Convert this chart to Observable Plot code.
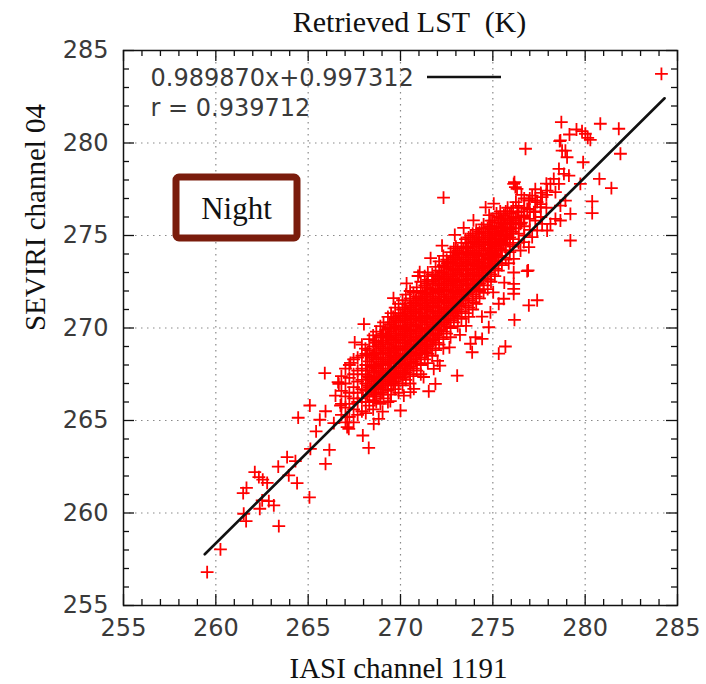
<!DOCTYPE html>
<html><head><meta charset="utf-8">
<script src="https://cdn.jsdelivr.net/npm/d3@7"></script>
<script src="https://cdn.jsdelivr.net/npm/@observablehq/plot@0.6"></script>
<style>body{margin:0;background:#fff}#chart svg{display:block}</style>
</head><body><div id="chart"></div>
<script>
// ---------- data ----------
const titleText = "Retrieved LST  (K)";
const xLabel = "IASI channel 1191";
const yLabel = "SEVIRI channel 04";
const boxLabel = "Night";
const xTicks = [255, 260, 265, 270, 275, 280, 285];
const yTicks = [255, 260, 265, 270, 275, 280, 285];
const gridTicks = [260, 265, 270, 275, 280];
const minorTicks = [256,257,258,259,261,262,263,264,266,267,268,269,271,272,273,274,276,277,278,279,281,282,283,284];
const slope = 0.989870, intercept = 0.997312, rValue = 0.939712;
const fitX = [259.4, 284.3];

// isolated points [IASI, SEVIRI]
const outlierPts = [
[259.53,256.80],[260.25,258.03],[261.51,259.96],[261.64,259.56],[261.48,261.07],[261.66,261.36],
[262.11,262.21],[262.33,261.94],[262.54,261.80],[262.78,261.63],[262.38,260.23],[262.51,260.68],
[262.87,260.64],[263.14,260.41],[263.41,259.29],[263.38,262.51],[263.86,263.02],[263.95,262.03],
[264.31,262.80],[264.40,261.61],[264.46,265.15],[265.09,265.81],[265.07,260.85],[265.43,264.41],
[265.12,263.47],[265.63,265.04],[265.94,265.50],[265.94,262.66],[266.15,263.41],[266.39,264.86],
[266.48,266.35],[266.66,266.98],[266.75,265.81],[267.11,265.18],[267.11,264.64],[265.90,267.56],
[267.29,268.12],[266.62,267.07],[267.96,264.19],[268.28,263.52],[268.10,268.88],[268.19,268.61],
[269.00,269.59],[269.24,269.50],[271.53,266.58],[271.89,266.98],[270.54,266.53],[270.18,266.35],
[270.00,265.54],[268.55,264.82],[268.82,265.09],[267.20,264.55],
[273.57,274.34],[272.53,273.50],[275.86,273.50],[276.86,273.07],[276.13,272.39],[276.13,272.12],
[276.13,271.85],[275.59,271.58],[275.32,271.31],[276.95,271.22],[276.17,270.44],[274.87,270.85],
[274.78,270.04],[274.06,269.50],[274.42,269.41],[275.68,269.00],[275.32,268.61],[273.79,269.15],
[273.88,268.69],[273.07,267.43],[272.13,267.97],[271.80,267.79],[272.33,277.05],[277.40,271.50],
[276.77,279.69],[278.66,280.14],[278.93,279.59],[279.02,279.23],[279.89,278.96],[280.77,278.06],
[280.38,276.85],[280.38,276.21],[279.20,274.73],[276.91,273.11],[276.13,277.79],[276.31,277.52],
[284.13,283.74],[278.71,281.13],[279.15,280.46],[279.53,280.73],[279.83,280.64],[280.01,280.50],
[280.14,280.28],[280.28,280.17],[280.82,281.04],[281.82,280.77],[281.91,279.42],[278.62,280.10],
[278.75,279.59],[279.74,277.79],[281.42,277.56],[276.17,277.88],[276.22,277.61],
[278.58,278.60],[278.85,278.33],[279.12,278.24],[278.30,278.06],[278.12,277.79],[278.58,277.79],
[277.94,277.43],[278.39,277.34],[277.67,277.07],[277.40,276.80],[277.13,277.16],[276.95,276.89],
[277.58,276.53],[277.22,276.26],[276.86,276.44],[276.68,276.08],[276.32,276.26],[276.13,275.81],
[276.50,275.63],[275.95,275.45],[275.59,275.63],[275.50,275.27],[275.77,275.00],[275.32,274.82],
[278.39,275.90],[278.66,275.81],[278.12,275.63],[277.94,275.27],[277.67,275.63],[277.40,275.27],
[277.13,274.91],[276.95,274.37],[276.68,274.64],[276.50,274.19],[276.13,273.74],[278.93,276.89],
[278.66,276.62],[279.20,276.17],[276.13,273.00],[274.78,273.74],[275.14,273.47],[274.42,273.29]
];

// ragged edge of the cloud
const edgePts = [
[269.62,271.62],[270.33,272.41],[271.04,273.02],[271.63,273.78],[272.94,275.03],[273.42,275.41],
[274.61,276.52],[269.03,265.48],[270.72,266.71],[272.01,268.22],[273.22,269.63],[274.41,270.62],
[268.02,270.21],[267.52,269.22],[270.95,272.81],[272.25,274.45],[273.95,275.82],[275.05,276.72],
[269.45,266.05],[271.25,267.35],[272.65,268.95],[273.55,270.12],[275.02,271.93],[275.62,272.45]
];

// dense core read column by column: [IASI, [SEVIRI values]]
const coreCols = [
[266.80,[265.3,265.9,266.6,267.4]],
[267.02,[264.9,265.7,266.3,267.0,267.8]],
[267.23,[265.2,265.9,266.5,267.3,268.0]],
[267.46,[264.9,265.6,266.2,266.8,267.5,268.3]],
[267.68,[265.3,266.0,266.5,267.1,267.7,268.4]],
[267.91,[265.5,266.2,266.7,267.2,267.8,268.5,269.1]],
[268.12,[265.4,266.0,266.6,267.0,267.5,268.0,268.6]],
[268.31,[265.8,266.3,266.8,267.3,267.7,268.2,268.8,269.4]],
[268.52,[265.6,266.1,266.7,267.1,267.6,268.0,268.5,269.0,269.6]],
[268.69,[266.0,266.5,266.9,267.4,267.8,268.3,268.7,269.2,269.8]],
[268.91,[265.9,266.4,266.8,267.3,267.7,268.1,268.6,269.0,269.5,270.1]],
[269.08,[266.2,266.7,267.1,267.5,268.0,268.4,268.8,269.3,269.7,270.3]],
[269.32,[266.0,266.6,267.0,267.4,267.8,268.2,268.7,269.1,269.5,270.0,270.6]],
[269.49,[266.4,266.9,267.3,267.7,268.1,268.5,268.9,269.4,269.8,270.3,270.8]],
[269.71,[266.7,267.1,267.5,267.9,268.4,268.8,269.2,269.6,270.1,270.5,271.1]],
[269.90,[266.5,267.0,267.4,267.8,268.2,268.6,269.0,269.4,269.9,270.3,270.8,271.3]],
[270.11,[266.9,267.3,267.7,268.1,268.5,268.9,269.3,269.7,270.1,270.6,271.0,271.5]],
[270.29,[267.2,267.6,268.0,268.4,268.8,269.2,269.6,270.0,270.4,270.8,271.3,271.8]],
[270.52,[267.0,267.5,267.9,268.3,268.7,269.1,269.5,269.9,270.3,270.7,271.1,271.6,272.0]],
[270.70,[267.4,267.8,268.2,268.6,269.0,269.4,269.8,270.2,270.6,271.0,271.4,271.9]],
[270.88,[267.7,268.1,268.5,268.9,269.3,269.7,270.1,270.5,270.9,271.3,271.7,272.2]],
[271.10,[267.5,268.0,268.4,268.8,269.2,269.6,270.0,270.4,270.8,271.2,271.6,272.0,272.5]],
[271.31,[268.3,268.7,269.1,269.5,269.9,270.3,270.7,271.1,271.5,271.9,272.3,272.8]],
[271.48,[268.1,268.6,269.0,269.4,269.8,270.2,270.6,271.0,271.4,271.8,272.2,272.6,273.0]],
[271.72,[268.5,268.9,269.3,269.7,270.1,270.5,270.9,271.3,271.7,272.1,272.5,272.9]],
[271.90,[268.8,269.2,269.6,270.0,270.4,270.8,271.2,271.6,272.0,272.4,272.8,273.3]],
[272.09,[269.1,269.5,269.9,270.3,270.7,271.1,271.5,271.9,272.3,272.7,273.1,273.6]],
[272.32,[268.9,269.4,269.8,270.2,270.6,271.0,271.4,271.8,272.2,272.6,273.0,273.4,273.9]],
[272.50,[269.7,270.1,270.5,270.9,271.3,271.7,272.1,272.5,272.9,273.3,273.7]],
[272.71,[269.5,270.0,270.4,270.8,271.2,271.6,272.0,272.4,272.8,273.2,273.6,274.1]],
[272.89,[270.3,270.7,271.1,271.5,271.9,272.3,272.7,273.1,273.5,273.9,274.3]],
[273.10,[270.1,270.6,271.0,271.4,271.8,272.2,272.6,273.0,273.4,273.8,274.2]],
[273.30,[270.5,270.9,271.3,271.7,272.1,272.5,272.9,273.3,273.7,274.1,274.6]],
[273.52,[270.8,271.2,271.6,272.0,272.4,272.8,273.2,273.6,274.0,274.4,274.8]],
[273.69,[270.6,271.1,271.5,271.9,272.3,272.7,273.1,273.5,273.9,274.3,274.9]],
[273.91,[271.0,271.4,271.8,272.2,272.6,273.0,273.4,273.8,274.2,274.6,275.1]],
[274.10,[271.3,271.7,272.1,272.5,272.9,273.3,273.7,274.1,274.5,274.9,275.3]],
[274.28,[271.6,272.0,272.4,272.8,273.2,273.6,274.0,274.4,274.8,275.2]],
[274.50,[271.9,272.3,272.7,273.1,273.5,273.9,274.3,274.7,275.1,275.6]],
[274.72,[272.1,272.6,273.0,273.4,273.8,274.2,274.6,275.0,275.4]],
[274.90,[272.5,272.9,273.3,273.7,274.1,274.5,274.9,275.3,275.8]],
[275.11,[272.8,273.2,273.6,274.0,274.4,274.8,275.2,275.7]],
[275.30,[273.1,273.5,273.9,274.3,274.7,275.1,275.5,276.0]],
[275.49,[273.4,273.8,274.2,274.6,275.0,275.4,275.9]],
[275.70,[273.7,274.2,274.6,275.0,275.4,275.8,276.3]],
[275.92,[274.1,274.5,274.9,275.3,275.7,276.2]],
[276.10,[274.4,274.8,275.2,275.6,276.0,276.5]],
[276.40,[274.6,275.1,275.6,276.0,276.6]],
[276.70,[275.0,275.5,276.0,276.5,277.0]],
[277.00,[275.3,275.9,276.4,277.0]],
[277.30,[275.8,276.3,276.9,277.5]],
[277.60,[276.0,276.7,277.3]],
[277.90,[276.5,277.2,277.8]]
];

// second, staggered pass over the densest part of the core
const coreCols2 = [
[268.21,[266.4,266.9,267.4,268.0,268.6]],
[268.42,[266.6,267.2,267.9,268.4]],
[268.61,[266.3,266.8,267.3,267.9,268.6,269.3]],
[268.80,[266.7,267.2,267.6,268.4,269.1]],
[269.00,[266.5,267.0,267.6,268.2,268.9,269.6]],
[269.20,[266.9,267.4,268.0,268.6,269.2,269.9]],
[269.41,[267.2,267.6,268.3,268.9,269.6,270.2]],
[269.60,[267.0,267.5,268.2,268.7,269.3,270.0,270.6]],
[269.80,[267.3,267.9,268.4,269.0,269.7,270.4]],
[270.00,[267.6,268.3,268.8,269.5,270.1,270.7]],
[270.20,[267.5,268.0,268.6,269.2,269.8,270.5,271.1]],
[270.40,[267.8,268.5,269.0,269.7,270.2,270.9]],
[270.60,[268.1,268.7,269.3,269.9,270.5,271.2]],
[270.80,[268.3,268.9,269.5,270.1,270.8,271.5]],
[271.00,[268.6,269.1,269.8,270.4,271.0,271.7]],
[271.20,[268.9,269.4,270.0,270.6,271.3,271.9]],
[271.40,[268.7,269.3,269.9,270.5,271.1,271.7,272.4]],
[271.60,[269.1,269.7,270.3,270.9,271.5,272.1]],
[271.80,[269.4,270.0,270.6,271.2,271.9,272.6]],
[272.00,[269.7,270.2,270.9,271.4,272.1,272.8]],
[272.20,[269.9,270.5,271.1,271.7,272.4,273.0]],
[272.40,[270.3,270.8,271.5,272.0,272.7,273.3]],
[272.60,[270.5,271.1,271.7,272.3,272.9,273.5]],
[272.80,[270.9,271.4,272.0,272.6,273.2,273.8]],
[273.00,[270.8,271.3,271.9,272.5,273.1,273.7,274.4]],
[273.20,[271.2,271.7,272.3,272.9,273.5,274.0]],
[273.40,[271.5,272.0,272.6,273.2,273.8,274.3]],
[273.60,[271.8,272.3,272.9,273.4,274.1,274.6]],
[273.80,[272.1,272.6,273.2,273.7,274.4,275.0]],
[274.00,[272.4,272.9,273.5,274.0,274.7]],
[274.20,[272.3,272.8,273.4,273.9,274.6,275.1]],
[274.40,[272.6,273.2,273.7,274.2,274.9,275.4]],
[274.60,[273.0,273.5,274.0,274.5,275.2]],
[274.80,[273.3,273.8,274.3,274.8,275.5,276.1]],
[275.00,[273.6,274.1,274.6,275.1,275.8]],
[275.20,[273.9,274.5,275.0,275.4,276.2]],
[275.40,[274.2,274.7,275.2,275.7,276.3]],
[275.60,[274.5,275.0,275.6,276.1]],
[275.80,[274.8,275.4,275.9,276.5]],
[276.00,[275.1,275.7,276.3]],
[276.25,[275.4,275.9,276.8]],
[276.55,[275.7,276.3,277.2]]
];

// ---------- build ----------
const points = [
  ...outlierPts.map(([x, y]) => ({x, y})),
  ...edgePts.map(([x, y]) => ({x, y})),
  ...coreCols.flatMap(([x, ys]) => ys.map(y => ({x, y}))),
  ...coreCols2.flatMap(([x, ys]) => ys.map(y => ({x, y})))
];
const fitLine = fitX.map(x => ({x, y: slope * x + intercept}));
const eqText = `${slope.toFixed(6)}x+${intercept.toFixed(6)}`;
const rText = `r = ${rValue.toFixed(6)}`;

const W = 706, H = 684, mL = 123, mR = 29, mT = 50, mB = 79;
const iW = W - mL - mR, iH = H - mT - mB;
const sans = "DejaVu Sans", serif = "Liberation Serif";
const gridStyle = {stroke: "#8a8a8a", strokeOpacity: 1, strokeWidth: 1.2, strokeDasharray: "1.5,4.5"};

const plot = Plot.plot({
  width: W, height: H,
  marginLeft: mL, marginRight: mR, marginTop: mT, marginBottom: mB,
  x: {domain: [255, 285]},
  y: {domain: [255, 285]},
  style: {background: "#fff", fontFamily: sans, overflow: "visible"},
  marks: [
    Plot.gridX(gridTicks, gridStyle),
    Plot.gridY(gridTicks, gridStyle),
    Plot.dot(points, {x: "x", y: "y", symbol: "plus", r: 4.2, stroke: "#ff0000", strokeWidth: 1.8}),
    Plot.line(fitLine, {x: "x", y: "y", stroke: "#111", strokeWidth: 2.6}),
    Plot.frame({stroke: "#111", strokeWidth: 1.5}),
    // inward ticks on all four sides
    Plot.tickX(xTicks, {x: d => d, insetTop: iH - 11, stroke: "#111", strokeWidth: 1.3}),
    Plot.tickX(xTicks, {x: d => d, insetBottom: iH - 11, stroke: "#111", strokeWidth: 1.3}),
    Plot.tickX(minorTicks, {x: d => d, insetTop: iH - 6, stroke: "#111", strokeWidth: 1.3}),
    Plot.tickX(minorTicks, {x: d => d, insetBottom: iH - 6, stroke: "#111", strokeWidth: 1.3}),
    Plot.tickY(yTicks, {y: d => d, insetRight: iW - 11, stroke: "#111", strokeWidth: 1.3}),
    Plot.tickY(yTicks, {y: d => d, insetLeft: iW - 11, stroke: "#111", strokeWidth: 1.3}),
    Plot.tickY(minorTicks, {y: d => d, insetRight: iW - 6, stroke: "#111", strokeWidth: 1.3}),
    Plot.tickY(minorTicks, {y: d => d, insetLeft: iW - 6, stroke: "#111", strokeWidth: 1.3}),
    Plot.axisX(xTicks, {tickSize: 0, tickPadding: 13, fontSize: 24, fill: "#3a3a3a", fontFamily: sans, label: null}),
    Plot.axisY(yTicks, {tickSize: 0, tickPadding: 15, fontSize: 24, fill: "#3a3a3a", fontFamily: sans, label: null}),
    // titles
    Plot.text([titleText], {frameAnchor: "top", lineAnchor: "middle", dx: 9, dy: -28, fontFamily: serif, fontSize: 30, fill: "#111"}),
    Plot.text([xLabel], {frameAnchor: "bottom", lineAnchor: "middle", dx: -2, dy: 63, fontFamily: serif, fontSize: 29, fill: "#111"}),
    Plot.text([yLabel], {frameAnchor: "left", lineAnchor: "middle", dx: -88, dy: 3, rotate: -90, fontFamily: serif, fontSize: 29, fill: "#111"}),
    // legend
    Plot.text([eqText], {frameAnchor: "top-left", lineAnchor: "middle", dx: 27, dy: 28, textAnchor: "start", fontFamily: sans, fontSize: 24, fill: "#3a3a3a"}),
    Plot.text([rText], {frameAnchor: "top-left", lineAnchor: "middle", dx: 27, dy: 58, textAnchor: "start", fontFamily: sans, fontSize: 24, fill: "#3a3a3a"})
  ]
});

const svg = d3.select(plot);
// legend line sample
svg.append("line").attr("x1", mL + 304).attr("x2", mL + 378).attr("y1", mT + 27).attr("y2", mT + 27)
  .attr("stroke", "#111").attr("stroke-width", 2.6);
// Night box
const g = svg.append("g");
g.append("rect").attr("x", mL + 53).attr("y", mT + 127).attr("width", 121).attr("height", 61).attr("rx", 3)
  .attr("fill", "#fff").attr("stroke", "#7a1c0c").attr("stroke-width", 7);
g.append("text").attr("x", mL + 113.5).attr("y", mT + 158).attr("text-anchor", "middle").attr("dominant-baseline", "central")
  .attr("font-family", serif).attr("font-size", 31).attr("fill", "#111").text(boxLabel);

document.getElementById("chart").appendChild(plot);
</script>
</body></html>
